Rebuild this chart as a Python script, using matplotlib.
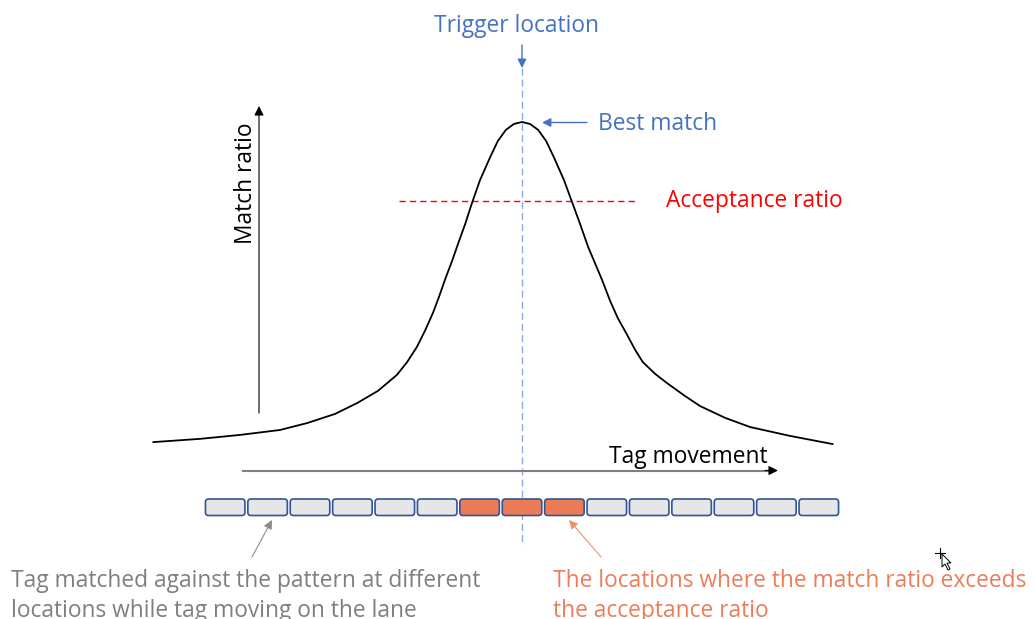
import matplotlib
matplotlib.use("Agg")
import matplotlib.pyplot as plt
import numpy as np
from matplotlib.patches import FancyBboxPatch

# ---- data -------------------------------------------------------------
positions = np.arange(15)          # lane locations where the tag is checked
trigger = 7                        # trigger location (index on the lane)
acceptance = 0.76                  # acceptance ratio
accept_span = (4.10, 9.71)         # extent of the acceptance marker line

# match ratio of the tag against the pattern along the lane
curve_x = [-1.70, -0.59, 0.35, 1.29, 1.93, 2.59, 3.11, 3.60, 4.05, 4.29,
           4.52, 4.71, 4.90, 5.04, 5.18, 5.35, 5.49, 5.66, 5.82, 6.01,
           6.25, 6.43, 6.62, 6.81, 7.00, 7.19, 7.38, 7.57, 7.75, 7.99,
           8.18, 8.37, 8.56, 8.75, 8.89, 9.08, 9.26, 9.48, 9.67, 9.85,
           10.14, 10.42, 10.84, 11.20, 11.79, 12.38, 13.32, 14.33]
curve_ratio = [0.024, 0.034, 0.046, 0.061, 0.082, 0.110, 0.143, 0.180, 0.229, 0.268,
               0.314, 0.363, 0.418, 0.466, 0.518, 0.576, 0.628, 0.689, 0.753, 0.823,
               0.893, 0.942, 0.976, 0.994, 1.000, 0.994, 0.976, 0.942, 0.893, 0.823,
               0.756, 0.689, 0.619, 0.561, 0.518, 0.454, 0.402, 0.351, 0.305, 0.268,
               0.232, 0.204, 0.165, 0.134, 0.098, 0.070, 0.043, 0.018]

# ---- styling ----------------------------------------------------------
plt.rcParams["font.family"] = ["Open Sans", "DejaVu Sans"]
BLUE = "#4472C4"
LIGHT_BLUE = "#8EAADB"
RED = "#FF0000"
GREY = "#7F7F7F"
SALMON = "#EC7D5A"
BOX_FACE = "#E6E6E6"
BOX_ORANGE = "#EC7C56"
BOX_EDGE = "#2F5597"
FS = 16.4

W, H = 1035, 619
fig = plt.figure(figsize=(W / 100, H / 100), dpi=100)
ax = fig.add_axes([0, 0, 1, 1])

# lane units horizontally, match-ratio units vertically
X0, PITCH, Y0, SCALE = 522, 42.4, 450, 328


def px(x, y):
    """Canvas position (from top-left) to data coordinates."""
    return ((x - X0) / PITCH + trigger, (Y0 - y) / SCALE)


ax.set_xlim(px(0, 0)[0], px(W, 0)[0])
ax.set_ylim(px(0, H)[1], px(0, 0)[1])
ax.axis("off")

# match-ratio curve
ax.plot(curve_x, curve_ratio, color="black", lw=1.3, solid_joinstyle="round",
        solid_capstyle="round", zorder=3)

# acceptance ratio line
ax.plot(accept_span, [acceptance, acceptance], color=RED, lw=1.0,
        dashes=(4.5, 3), zorder=2)

# trigger location line
ax.plot([trigger, trigger], [px(0, 68)[1], px(0, 546)[1]], color=LIGHT_BLUE,
        lw=1.0, dashes=(5, 3), zorder=1)

# lane cells, highlighted where the curve exceeds the acceptance ratio
cell_ratio = np.interp(positions, curve_x, curve_ratio)
cell_w = 39.5 / PITCH
cell_h = 16.5 / SCALE
cell_bottom = px(0, 515.5)[1]
aspect = PITCH / SCALE
for p, r in zip(positions, cell_ratio):
    face = BOX_ORANGE if r > acceptance else BOX_FACE
    ax.add_patch(FancyBboxPatch((p - cell_w / 2, cell_bottom), cell_w, cell_h,
                                boxstyle="round,pad=0,rounding_size=0.075",
                                mutation_aspect=aspect, facecolor=face,
                                edgecolor=BOX_EDGE, lw=1.2, zorder=4))


def arrow(p0, p1, color, lw=1.0, ms=13):
    ax.annotate("", xy=px(*p1), xytext=px(*p0),
                arrowprops=dict(arrowstyle="-|>", color=color, lw=lw,
                                mutation_scale=ms, shrinkA=0, shrinkB=0),
                zorder=5)


# axes of the sketch
arrow((259, 413), (259, 106), "black", lw=0.8, ms=14)
ax.plot(*zip(px(243, 470.5), px(770, 470.5)), color="#808080", lw=1.5, zorder=2)
arrow((765, 470.5), (778, 470.5), "black", lw=0.8, ms=14)

# annotation arrows
arrow((522, 45), (522, 68), BLUE, lw=1.0, ms=13)
arrow((587, 122.5), (542, 122.5), BLUE, lw=1.0, ms=13)
arrow((252, 557), (272, 520), "#8C8C8C", lw=0.8, ms=13)
arrow((601, 557), (569, 520), "#F0916F", lw=0.8, ms=13)

# labels
ax.text(*px(517, 32), "Trigger location", ha="center", va="baseline",
        fontsize=FS, color=BLUE)
ax.text(*px(598, 130), "Best match", ha="left", va="baseline",
        fontsize=FS, color=BLUE)
ax.text(*px(666, 207), "Acceptance ratio", ha="left", va="baseline",
        fontsize=FS, color=RED)
ax.text(*px(768, 463), "Tag movement", ha="right", va="baseline",
        fontsize=FS, color="black")
ax.text(*px(252, 183.5), "Match ratio", ha="center", va="baseline",
        rotation=90, rotation_mode="anchor", fontsize=FS, color="black")

ax.text(*px(11, 587), "Tag matched against the pattern at different",
        ha="left", va="baseline", fontsize=FS, color=GREY)
ax.text(*px(11, 617), "locations while tag moving on the lane",
        ha="left", va="baseline", fontsize=FS, color=GREY)
ax.text(*px(553, 587), "The locations where the match ratio exceeds",
        ha="left", va="baseline", fontsize=FS, color=SALMON)
ax.text(*px(553, 617), "the acceptance ratio",
        ha="left", va="baseline", fontsize=FS, color=SALMON)

# mouse pointer
cx, cy = 940, 553
for dx, dy in [(-5, 0), (5, 0), (0, -5), (0, 5)]:
    ax.plot(*zip(px(cx, cy), px(cx + dx, cy + dy)), color="black", lw=0.8, zorder=6)
pointer = [(942, 554), (942, 567), (945, 564), (948, 570), (950, 569),
           (947, 563), (951, 563)]
ax.fill(*zip(*[px(*q) for q in pointer]), facecolor="white", edgecolor="black",
        lw=0.7, zorder=6)

fig.savefig("out.png", dpi=100)
